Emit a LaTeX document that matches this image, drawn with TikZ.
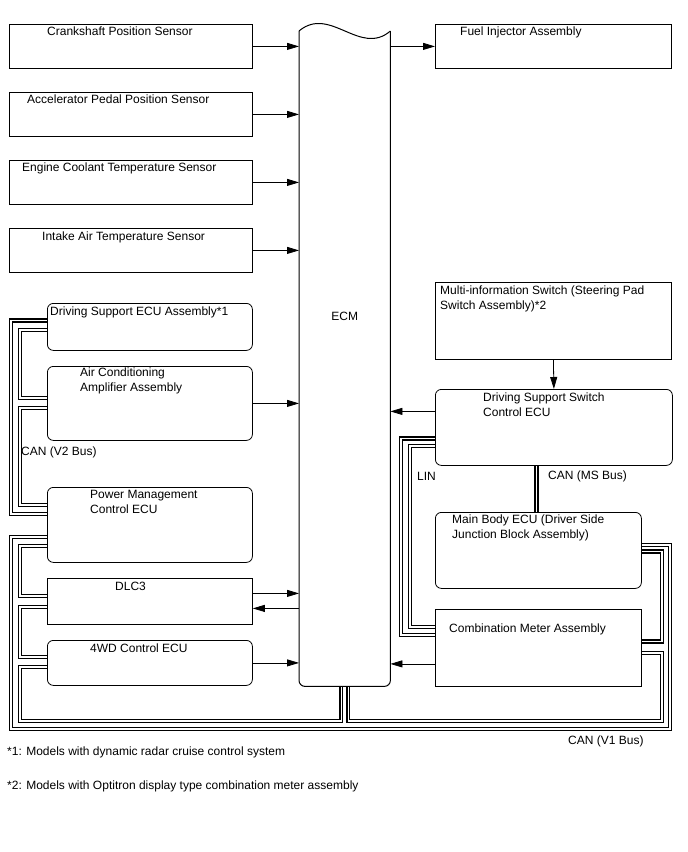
\documentclass[tikz,border=0pt]{standalone}
\usepackage{fontspec}
\setmainfont{Liberation Sans}
\usetikzlibrary{arrows.meta,calc,backgrounds}
\begin{document}
\begin{tikzpicture}[x=1pt,y=-1pt,
  font=\fontsize{12}{15}\selectfont,
  box/.style={draw, line width=0.8pt, anchor=north west, inner sep=0pt},
  rbox/.style={box, rounded corners=6pt},
  txt/.style={anchor=north west, inner sep=0pt, align=left},
  arr/.style={line width=0.8pt, -{Triangle[length=12pt,width=7pt]}},
  bus/.style={line width=1.5pt, double=white, double distance=1.4pt}]
\useasboundingbox (0,0) rectangle (688,852);

% sensors and ECUs, left column
\node[box, minimum width=243pt, minimum height=44pt] (crank) at (9,24) {};
\node[box, minimum width=243pt, minimum height=44pt] (accel) at (9,92) {};
\node[box, minimum width=243pt, minimum height=44pt] (coolant) at (9,160) {};
\node[box, minimum width=243pt, minimum height=44pt] (intake) at (9,228) {};
\node[rbox, minimum width=205pt, minimum height=47pt] (dsecu) at (47,303) {};
\node[rbox, minimum width=205pt, minimum height=74pt] (ac) at (47,366) {};
\node[rbox, minimum width=205pt, minimum height=75pt] (pm) at (47,487) {};
\node[box, minimum width=205pt, minimum height=46pt] (dlc) at (47,578) {};
\node[rbox, minimum width=205pt, minimum height=45pt] (fwd) at (47,640) {};

% right column
\node[box, minimum width=236pt, minimum height=44pt] (fuel) at (435,24) {};
\node[box, minimum width=236pt, minimum height=77pt] (multi) at (435,282) {};
\node[rbox, minimum width=237pt, minimum height=76pt] (dssw) at (435,389) {};
\node[rbox, minimum width=206pt, minimum height=76pt] (mb) at (435,512) {};
\node[box, minimum width=206pt, minimum height=77pt] (combo) at (435,609) {};

% ECM
\node[minimum width=91pt, minimum height=655pt, anchor=north west, inner sep=0pt] (ecm) at (299,31) {};
\draw[line width=1pt, rounded corners=6pt] (ecm.north west) -- (ecm.south west) -- (ecm.south east) -- (ecm.north east);
\draw[line width=1pt] (ecm.north west) .. controls ($(ecm.north west)+(31,-26)$) and ($(ecm.north west)+(61,26)$) .. (ecm.north east);
\node (ecm-t) at ($(ecm.north)+(0,285)$) {ECM};

% texts
\node[txt] (crank-t) at ($(crank.north west)+(38,3)$) {Crankshaft Position Sensor};
\node[txt] (accel-t) at ($(accel.north west)+(18,3)$) {Accelerator Pedal Position Sensor};
\node[txt] (coolant-t) at ($(coolant.north west)+(13,3)$) {Engine Coolant Temperature Sensor};
\node[txt] (intake-t) at ($(intake.north west)+(33,4)$) {Intake Air Temperature Sensor};
\node[txt] (dsecu-t) at ($(dsecu.north west)+(3,4)$) {Driving Support ECU Assembly*1};
\node[txt] (ac-t) at ($(ac.north west)+(33,2)$) {Air Conditioning\\Amplifier Assembly};
\node[txt] (pm-t) at ($(pm.north west)+(43,3)$) {Power Management\\Control ECU};
\node[txt] (dlc-t) at ($(dlc.north west)+(68,4)$) {DLC3};
\node[txt] (fwd-t) at ($(fwd.north west)+(43,4)$) {4WD Control ECU};
\node[txt] (fuel-t) at ($(fuel.north west)+(25,3)$) {Fuel Injector Assembly};
\node[txt] (multi-t) at ($(multi.north west)+(5,4)$) {Multi-information Switch (Steering Pad\\Switch Assembly)*2};
\node[txt] (dssw-t) at ($(dssw.north west)+(48,4)$) {Driving Support Switch\\Control ECU};
\node[txt] (mb-t) at ($(mb.north west)+(17,3)$) {Main Body ECU (Driver Side\\Junction Block Assembly)};
\node[txt] (combo-t) at ($(combo.north west)+(14,15)$) {Combination Meter Assembly};

% signals
\draw[arr] (crank.east) -- (crank.east -| ecm.west);
\draw[arr] (accel.east) -- (accel.east -| ecm.west);
\draw[arr] (coolant.east) -- (coolant.east -| ecm.west);
\draw[arr] (intake.east) -- (intake.east -| ecm.west);
\draw[arr] (ac.east) -- (ac.east -| ecm.west);
\draw[arr] ($(dlc.east)+(0,-8)$) -- ($(dlc.east -| ecm.west)+(0,-8)$);
\draw[arr] ($(dlc.east -| ecm.west)+(0,7)$) -- ($(dlc.east)+(0,7)$);
\draw[arr] (fwd.east) -- (fwd.east -| ecm.west);
\draw[arr] (ecm.east |- fuel.west) -- (fuel.west);
\draw[arr] (multi.south) -- (dssw.north);
\draw[arr] ($(dssw.west)+(0,-16)$) -- ($(dssw.west -| ecm.east)+(0,-16)$);
\draw[arr] ($(combo.west)+(0,16)$) -- ($(combo.west -| ecm.east)+(0,16)$);

% bus lines
\begin{scope}[on background layer]
% CAN (V2 Bus)
\draw[bus] ($(dsecu.north west)+(0,17.5)$) -| ($(pm.north west)+(-36,0)$) |- ($(pm.north west)+(0,27)$);
\draw[bus] ($(dsecu.north west)+(0,27)$) -| ($(ac.north west)+(-27,0)$) |- ($(ac.north west)+(0,32)$);
\draw[bus] ($(ac.north west)+(0,42)$) -| ($(pm.north west)+(-27,0)$) |- ($(pm.north west)+(0,18)$);
% CAN (V1 Bus)
\draw[bus] ($(pm.north west)+(0,50)$) -| ($(fwd.south west)+(-36,43)$) -| ($(mb.north east)+(28,33)$) -- ($(mb.north east)+(0,33)$);
\draw[bus] ($(pm.north west)+(0,59)$) -| ($(dlc.north west)+(-27,0)$) |- ($(dlc.north west)+(0,18)$);
\draw[bus] ($(dlc.north west)+(0,29)$) -| ($(fwd.north west)+(-27,0)$) |- ($(fwd.north west)+(0,17)$);
\draw[bus] ($(fwd.north west)+(0,27)$) -| ($(fwd.south west)+(-27,35)$) -| ($(ecm.south)+(-3.5,0)$);
\draw[bus] ($(mb.north east)+(0,39.5)$) -| ($(combo.north east)+(20,32.5)$) -- ($(combo.north east)+(0,32.5)$);
\draw[bus] ($(combo.north east)+(0,44)$) -| ($(combo.south east)+(20,34)$) -| ($(ecm.south)+(3.5,0)$);
% LIN
\draw[bus] ($(dssw.north west)+(0,49.5)$) -| ($(combo.north west)+(-34,26)$) -- ($(combo.north west)+(0,26)$);
\draw[bus] ($(dssw.north west)+(0,57)$) -| ($(combo.north west)+(-25,18)$) -- ($(combo.north west)+(0,18)$);
% CAN (MS Bus)
\coordinate (ms) at ($(dssw.south)+(-17.5,0)$);
\draw[bus] (ms) -- (ms |- mb.north);
\end{scope}

% bus names and notes
\node[txt] (v2-t) at (21,447) {CAN (V2 Bus)};
\node[txt] (lin-t) at (417,472) {LIN};
\node[txt] (ms-t) at (548,471) {CAN (MS Bus)};
\node[txt] (v1-t) at (568,736) {CAN (V1 Bus)};
\node[txt] (note1) at (7,747) {*1: Models with dynamic radar cruise control system};
\node[txt] (note2) at (7,781) {*2: Models with Optitron display type combination meter assembly};
\end{tikzpicture}
\end{document}
